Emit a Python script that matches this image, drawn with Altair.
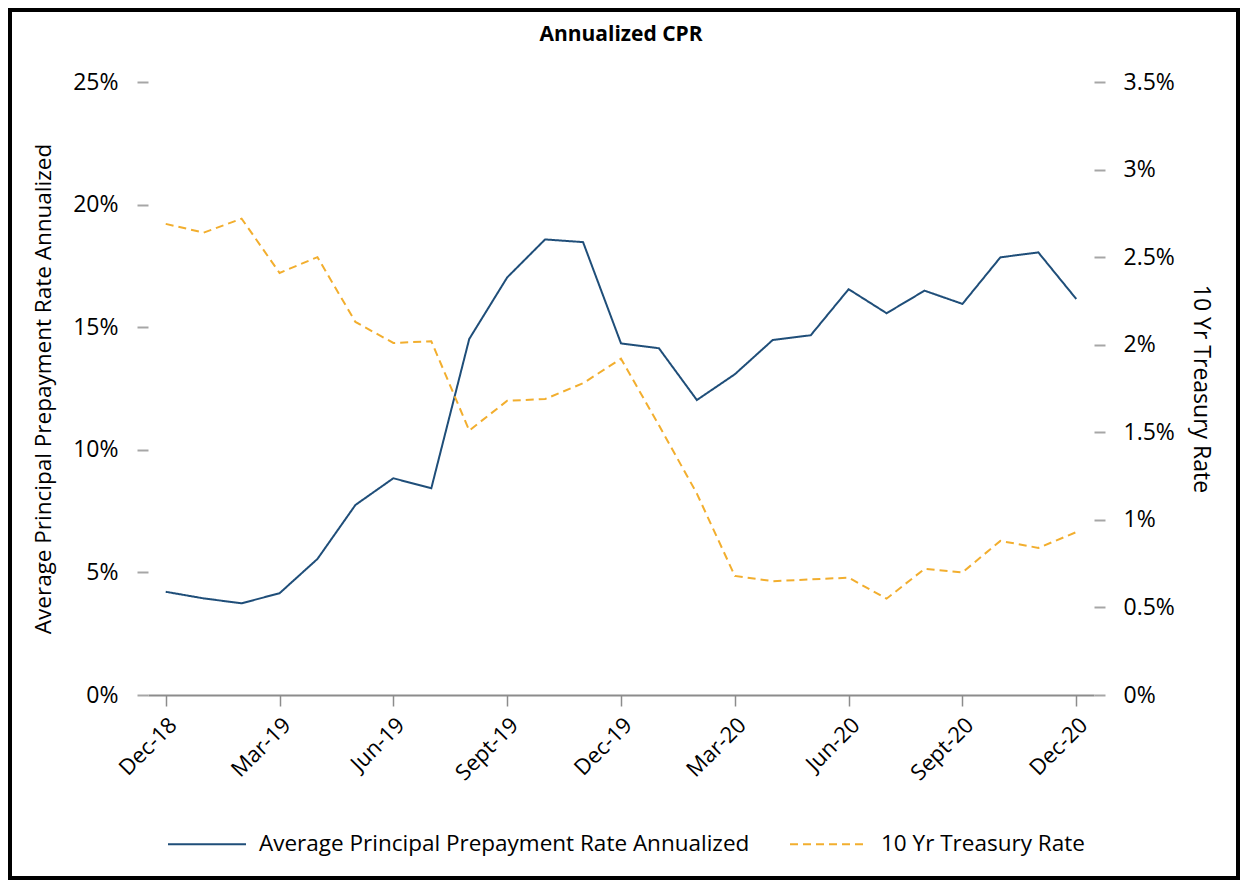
import altair as alt
import pandas as pd

months = ["Dec-18", "Jan-19", "Feb-19", "Mar-19", "Apr-19", "May-19", "Jun-19",
          "Jul-19", "Aug-19", "Sept-19", "Oct-19", "Nov-19", "Dec-19", "Jan-20",
          "Feb-20", "Mar-20", "Apr-20", "May-20", "Jun-20", "Jul-20", "Aug-20",
          "Sept-20", "Oct-20", "Nov-20", "Dec-20"]
tick_months = ["Dec-18", "Mar-19", "Jun-19", "Sept-19", "Dec-19", "Mar-20",
               "Jun-20", "Sept-20", "Dec-20"]

cpr = [4.21, 3.94, 3.74, 4.15, 5.55, 7.75, 8.84, 8.43, 14.52, 17.03, 18.58, 18.47,
       14.34, 14.14, 12.03, 13.08, 14.48, 14.67, 16.55, 15.57, 16.49, 15.95, 17.85,
       18.05, 16.15]
treasury = [2.69, 2.64, 2.72, 2.41, 2.50, 2.13, 2.01, 2.02, 1.51, 1.68, 1.69, 1.78,
            1.92, 1.54, 1.15, 0.68, 0.65, 0.66, 0.67, 0.55, 0.72, 0.70, 0.88, 0.84,
            0.93]

left_ticks = [0, 5, 10, 15, 20, 25]
right_ticks = [0, 0.5, 1, 1.5, 2, 2.5, 3, 3.5]

s1 = "Average Principal Prepayment Rate Annualized"
s2 = "10 Yr Treasury Rate"
series_names = [s1, s2]
series_colors = ["#1F4E79", "#F2AE2E"]

df1 = pd.DataFrame({"month": months, "value": cpr, "series": s1})
df2 = pd.DataFrame({"month": months, "value": treasury, "series": s2})

FONT = "Open Sans"
W, H = 946, 613

x_enc = alt.X("month:O", sort=months, title=None,
              scale=alt.Scale(type="point", padding=0.467),
              axis=alt.Axis(values=tick_months, labelAngle=-45, labelFontSize=22,
                            labelFont=FONT, labelColor="#000000", tickSize=11,
                            tickColor="#8C8C8C", tickWidth=1.5, domainColor="#8C8C8C",
                            domainWidth=2, labelPadding=8, grid=False))

color_enc = alt.Color("series:N", scale=alt.Scale(domain=series_names, range=series_colors),
                      legend=alt.Legend(title=None, orient="none", direction="horizontal",
                                        legendX=19, legendY=722, symbolType="stroke",
                                        symbolSize=6084, symbolStrokeWidth=2,
                                        labelFontSize=22.5, labelFont=FONT,
                                        labelColor="#000000", labelLimit=0,
                                        labelOffset=12, columnPadding=36, padding=0))
dash_enc = alt.StrokeDash("series:N", scale=alt.Scale(domain=series_names,
                                                      range=[[1, 0], [8, 5]]),
                          legend=None)

line1 = alt.Chart(df1).mark_line(strokeWidth=2).encode(
    x=x_enc,
    y=alt.Y("value:Q", scale=alt.Scale(domain=[0, 25]),
            axis=alt.Axis(orient="left", values=left_ticks,
                          labelExpr="datum.value + '%'", title=s1,
                          titleFontSize=22.5, titleFont=FONT, titleFontWeight="normal",
                          titleColor="#000000", titlePadding=17,
                          labelFontSize=23, labelFont=FONT, labelColor="#000000",
                          tickSize=11, tickColor="#A6A6A6", tickWidth=2,
                          labelPadding=19, domain=False, grid=False)),
    color=color_enc,
    strokeDash=dash_enc,
)

line2 = alt.Chart(df2).mark_line(strokeWidth=2).encode(
    x=x_enc,
    y=alt.Y("value:Q", scale=alt.Scale(domain=[0, 3.5]),
            axis=alt.Axis(orient="right", values=right_ticks,
                          labelExpr="datum.value + '%'", title=s2,
                          titleFontSize=23, titleFont=FONT, titleFontWeight="normal",
                          titleColor="#000000", titlePadding=14,
                          labelFontSize=23, labelFont=FONT, labelColor="#000000",
                          tickSize=11, tickColor="#A6A6A6", tickWidth=2,
                          labelPadding=18, domain=False, grid=False)),
    color=color_enc,
    strokeDash=dash_enc,
)

frame = alt.Chart(pd.DataFrame({"f": [0]})).mark_rect(
    fillOpacity=0, stroke="#000000", strokeWidth=4
).encode(
    x=alt.value(-138), x2=alt.value(W + 146 - 2),
    y=alt.value(-72), y2=alt.value(H + 185 - 2),
)

chart = alt.layer(line1, line2, frame).resolve_scale(
    y="independent"
).properties(
    width=W, height=H,
    background="#FFFFFF",
    title=alt.TitleParams("Annualized CPR", fontSize=21, fontWeight="bold",
                          font=FONT, anchor="middle", offset=-54,
                          baseline="alphabetic", color="#000000"),
    autosize=alt.AutoSizeParams(type="none"),
    padding={"left": 140, "top": 74, "right": 146, "bottom": 185},
).configure_view(stroke=None)

chart.save("out.html", embed_options={"renderer": "svg", "actions": False})
